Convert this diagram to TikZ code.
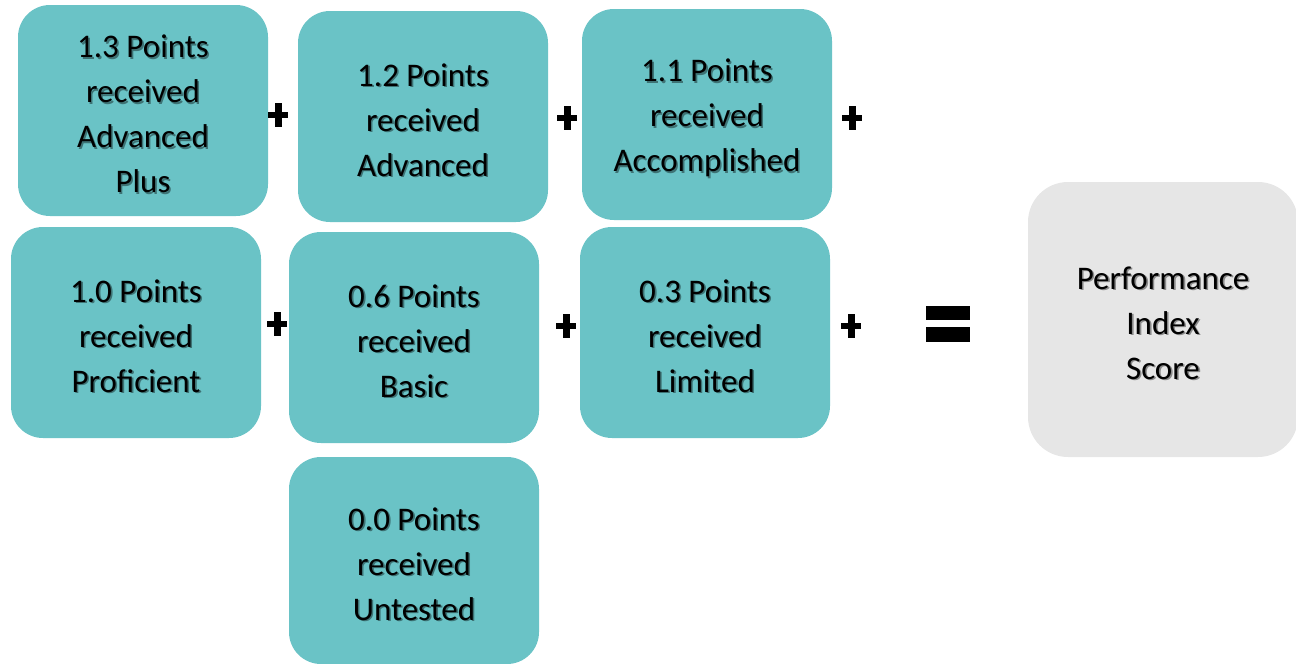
\documentclass[tikz,border=0pt]{standalone}
\usepackage{fontspec}
\setmainfont{Carlito}
\definecolor{tealbox}{HTML}{6AC3C6}
\definecolor{greybox}{HTML}{E6E6E6}
\definecolor{tealshade}{HTML}{3E7375}
\definecolor{greyshade}{HTML}{8A8A8A}
% a line of text with a soft offset shadow behind it
\newcommand{\shl}[2]{\rlap{\kern1.6pt\raisebox{-1.6pt}{\textcolor{#1}{#2}}}#2}
\newcommand{\tl}[1]{\shl{tealshade}{#1}}
\newcommand{\gl}[1]{\shl{greyshade}{#1}}
% first line strut: lowers the text block a little inside its card
\newcommand{\topstrut}{\rule{0pt}{31pt}}
\begin{document}
\begin{tikzpicture}[x=1pt,y=-1pt,
  card/.style={rounded corners=32pt, minimum width=250pt, minimum height=211pt,
    align=center, inner sep=0pt, text=black,
    font=\fontsize{33}{45}\selectfont},
  tealcard/.style={card, fill=tealbox},
  greycard/.style={card, fill=greybox, rounded corners=40pt,
    minimum width=270pt, minimum height=275pt},
  opbar/.style={fill=black, draw=none}]
\useasboundingbox (0,0) rectangle (1296,664);

% score components
\node[tealcard] (adv+) at (143,110.5) {\topstrut\tl{1.3 Points}\\\tl{received}\\\tl{Advanced}\\\tl{Plus}};
\node[tealcard] (adv)  at (423,116.5) {\topstrut\tl{1.2 Points}\\\tl{received}\\\tl{Advanced}};
\node[tealcard] (acc)  at (707,114.5) {\topstrut\tl{1.1 Points}\\\tl{received}\\\tl{Accomplished}};
\node[tealcard] (prof) at (136,332.5) {\topstrut\tl{1.0 Points}\\\tl{received}\\\tl{Proficient}};
\node[tealcard] (bas)  at (414,337.5) {\topstrut\tl{0.6 Points}\\\tl{received}\\\tl{Basic}};
\node[tealcard] (lim)  at (705,332.5) {\topstrut\tl{0.3 Points}\\\tl{received}\\\tl{Limited}};
\node[tealcard, minimum height=207pt] (unt) at (414,560.5) {\topstrut\tl{0.0 Points}\\\tl{received}\\\tl{Untested}};

% result
\node[greycard] (pis) at (1163,319.5) {\topstrut\gl{Performance}\\\gl{Index}\\\gl{Score}};

% plus operators
\foreach \px/\py in {278/115, 567/118, 852/118, 277/324, 566/326, 851/326}{
  \fill[opbar] (\px-10,\py-3) rectangle (\px+10,\py+3);
  \fill[opbar] (\px-3.5,\py-12) rectangle (\px+3.5,\py+12);
}

% equals operator
\fill[opbar] (926,306) rectangle (970,320);
\fill[opbar] (926,327) rectangle (970,342);
\end{tikzpicture}
\end{document}
